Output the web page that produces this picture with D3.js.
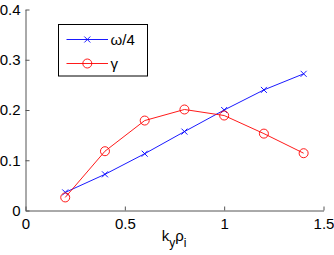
<!DOCTYPE html>
<html><head><meta charset="utf-8">
<script src="https://cdn.jsdelivr.net/npm/d3@7"></script>
<style>body{margin:0;background:#fff}svg{display:block}</style>
</head><body>
<script>
const kx = [0.2, 0.4, 0.6, 0.8, 1.0, 1.2, 1.4];
const omega4 = [0.036, 0.072, 0.113, 0.157, 0.200, 0.240, 0.272];
const gamma = [0.026, 0.118, 0.179, 0.201, 0.189, 0.153, 0.114];
const xTicks = [0, 0.5, 1, 1.5];
const yTicks = [0, 0.1, 0.2, 0.3, 0.4];
const seriesNames = ["ω/4", "γ"];

const FONT = "'Liberation Sans', Arial, sans-serif";
const W = 334, H = 255;
const svg = d3.select("body").append("svg").attr("width", W).attr("height", H)
  .attr("font-family", FONT);
const x = d3.scaleLinear().domain([0, 1.5]).range([25.5, 323.5]);
const y = d3.scaleLinear().domain([0, 0.4]).range([210.5, 9.5]);

const axisColor = "#555";
const gx = svg.append("g").attr("transform", "translate(0,210.5)")
  .call(d3.axisBottom(x).tickValues(xTicks).tickFormat(d3.format("")).tickSizeInner(-4).tickSizeOuter(0).tickPadding(8));
const gy = svg.append("g").attr("transform", "translate(25.5,0)")
  .call(d3.axisLeft(y).tickValues(yTicks).tickFormat(d3.format("")).tickSizeInner(-4).tickSizeOuter(0).tickPadding(5));
[gx, gy].forEach(g => {
  g.attr("font-family", FONT).attr("font-size", 15);
  g.select(".domain").attr("stroke", axisColor);
  g.selectAll(".tick line").attr("stroke", axisColor);
  g.selectAll(".tick text").attr("fill", "#000");
});
gx.selectAll(".tick text").attr("dy", "0.71em");

const line = d3.line().x((d, i) => x(kx[i])).y(d => y(d));
svg.append("path").datum(omega4).attr("d", line).attr("fill", "none").attr("stroke", "#0000ff").attr("stroke-width", 0.9);
const xm = 3;
svg.append("g").selectAll("path").data(omega4).join("path")
  .attr("d", (d, i) => { const cx = x(kx[i]), cy = y(d); return `M${cx-xm},${cy-xm}L${cx+xm},${cy+xm}M${cx-xm},${cy+xm}L${cx+xm},${cy-xm}`; })
  .attr("stroke", "#0000ff").attr("stroke-width", 0.9);
svg.append("path").datum(gamma).attr("d", line).attr("fill", "none").attr("stroke", "#ff0000").attr("stroke-width", 0.9);
svg.append("g").selectAll("circle").data(gamma).join("circle")
  .attr("cx", (d, i) => x(kx[i])).attr("cy", d => y(d)).attr("r", 4.5)
  .attr("fill", "none").attr("stroke", "#ff0000").attr("stroke-width", 0.9);

const lg = svg.append("g");
lg.append("rect").attr("x", 58.5).attr("y", 24.5).attr("width", 89).attr("height", 51.5)
  .attr("fill", "#fff").attr("stroke", "#000").attr("stroke-width", 1);
const rows = [{name: seriesNames[0], c: "#0000ff", m: "x", yy: 39.5}, {name: seriesNames[1], c: "#ff0000", m: "o", yy: 63.5}];
rows.forEach(r => {
  lg.append("line").attr("x1", 66.5).attr("x2", 108).attr("y1", r.yy).attr("y2", r.yy).attr("stroke", r.c).attr("stroke-width", 0.9);
  const cx = 87.3;
  if (r.m === "x") {
    lg.append("path").attr("d", `M${cx-xm},${r.yy-xm}L${cx+xm},${r.yy+xm}M${cx-xm},${r.yy+xm}L${cx+xm},${r.yy-xm}`).attr("stroke", r.c).attr("stroke-width", 0.9);
  } else {
    lg.append("circle").attr("cx", cx).attr("cy", r.yy).attr("r", 4.5).attr("fill", "none").attr("stroke", r.c).attr("stroke-width", 0.9);
  }
  lg.append("text").attr("x", 110.5).attr("y", r.yy + 5.2).attr("font-size", 15).text(r.name);
});

const xl = svg.append("text").attr("x", 174).attr("y", 240.5).attr("text-anchor", "middle").attr("font-size", 15);
xl.append("tspan").text("k");
xl.append("tspan").attr("dy", 6).attr("font-size", 12).text("y");
xl.append("tspan").attr("dy", -6).text("ρ");
xl.append("tspan").attr("dy", 6).attr("font-size", 12).text("i");
</script>
</body></html>
